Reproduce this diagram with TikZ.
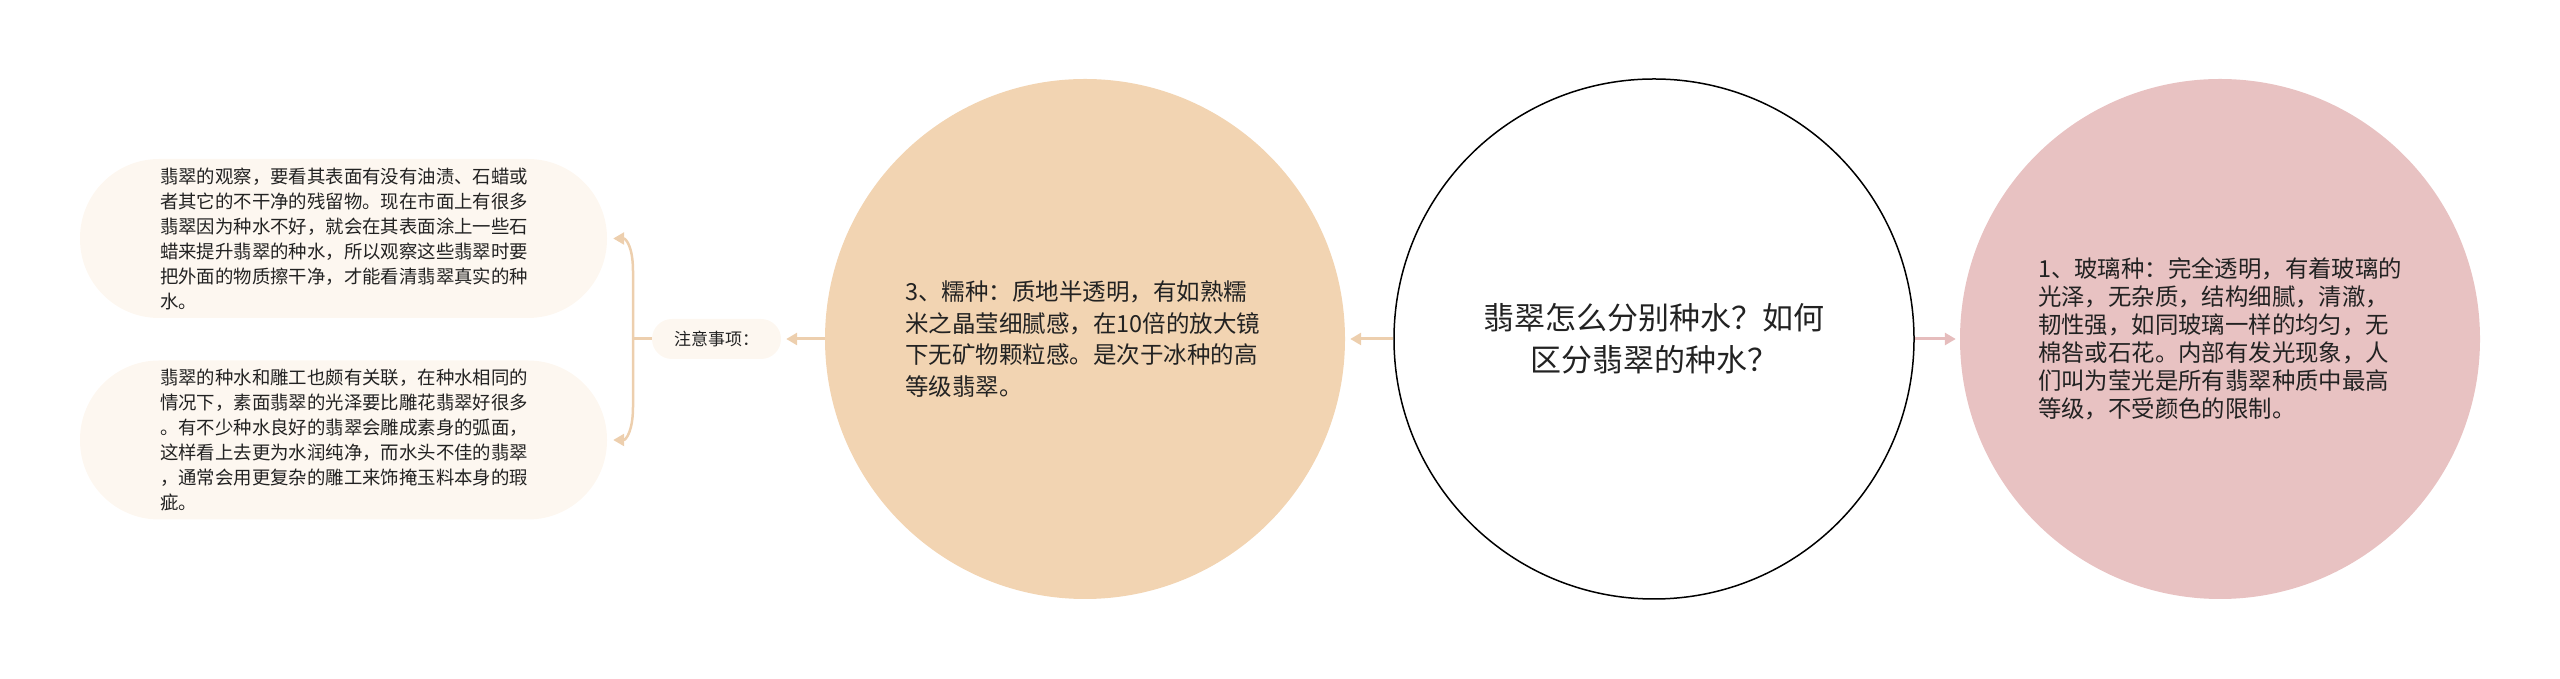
\documentclass[tikz,border=0pt]{standalone}
\usepackage{fontspec}
\setmainfont{Noto Sans CJK SC}
\usetikzlibrary{arrows.meta}
\definecolor{pillfill}{HTML}{FDF7F0}
\definecolor{orangefill}{HTML}{F2D4B2}
\definecolor{pinkfill}{HTML}{E8C2C2}
\definecolor{orangeline}{HTML}{EDCFAE}
\definecolor{pinkline}{HTML}{E6BDBD}
\definecolor{txt}{HTML}{222222}
\begin{document}
\begin{tikzpicture}[x=1pt,y=1pt,
  every node/.style={text=txt},
  pill/.style={rectangle, rounded corners=79pt, fill=pillfill, minimum width=527pt, minimum height=159pt,
    text width=367pt, inner xsep=80pt, inner ysep=4pt, align=left, font=\fontsize{18.4}{25}\selectfont},
  labpill/.style={rectangle, rounded corners=20pt, fill=pillfill, minimum height=40pt, inner xsep=22pt,
    font=\fontsize{17}{20}\selectfont},
  bigcirc/.style={circle, minimum size=520pt, inner sep=0pt},
  conn/.style={line width=3pt, draw=orangeline},
  tip/.style={-{Triangle[length=11pt,width=12pt]}}
]
\useasboundingbox (0,0) rectangle (2560,679);

\node[bigcirc, draw=black, line width=1.5pt, align=center, font=\fontsize{31}{42}\selectfont] (center) at (1654,340)
  {翡翠怎么分别种水？如何\\区分翡翠的种水？};

\node[bigcirc, fill=orangefill, text width=360pt, align=left, font=\fontsize{23.5}{31.5}\selectfont] (orange) at (1085,340)
  {3、糯种：质地半透明，有如熟糯\\米之晶莹细腻感，在10倍的放大镜\\下无矿物颗粒感。是次于冰种的高\\等级翡翠。};

\node[bigcirc, fill=pinkfill, text width=364pt, align=left, font=\fontsize{23.4}{28}\selectfont] (pink) at (2220,340)
  {1、玻璃种：完全透明，有着玻璃的\\光泽，无杂质，结构细腻，清澈，\\韧性强，如同玻璃一样的均匀，无\\棉咎或石花。内部有发光现象，人\\们叫为莹光是所有翡翠种质中最高\\等级，不受颜色的限制。};

\node[labpill] (lab) at (716.5,340) {注意事项：};

\node[pill] (top) at (343.5,440.5)
  {翡翠的观察，要看其表面有没有油渍、石蜡或\\者其它的不干净的残留物。现在市面上有很多\\翡翠因为种水不好，就会在其表面涂上一些石\\蜡来提升翡翠的种水，所以观察这些翡翠时要\\把外面的物质擦干净，才能看清翡翠真实的种\\水。};

\node[pill] (bottom) at (343.5,239)
  {翡翠的种水和雕工也颇有关联，在种水相同的\\情况下，素面翡翠的光泽要比雕花翡翠好很多\\。有不少种水良好的翡翠会雕成素身的弧面，\\这样看上去更为水润纯净，而水头不佳的翡翠\\，通常会用更复杂的雕工来饰掩玉料本身的瑕\\疵。};

% connectors
\draw[conn, tip, shorten >=5pt] (center.west) -- (orange.east);
\draw[line width=3pt, draw=pinkline, tip, shorten >=4pt] (center.east) -- (pink.west);
\draw[conn, tip, shorten >=5pt] (orange.west) -- (lab.east);

\coordinate (bj) at (633,340);
\draw[conn] (lab.west) -- (bj);
\draw[line width=2.5pt, draw=orangeline, tip, shorten >=6pt]
  (bj) -- (633,408) .. controls (633,432) and (626,440.5) .. (top.east);
\draw[line width=2.5pt, draw=orangeline, tip, shorten >=6pt]
  (bj) -- (633,272) .. controls (633,248) and (626,239) .. (bottom.east);
\end{tikzpicture}
\end{document}
